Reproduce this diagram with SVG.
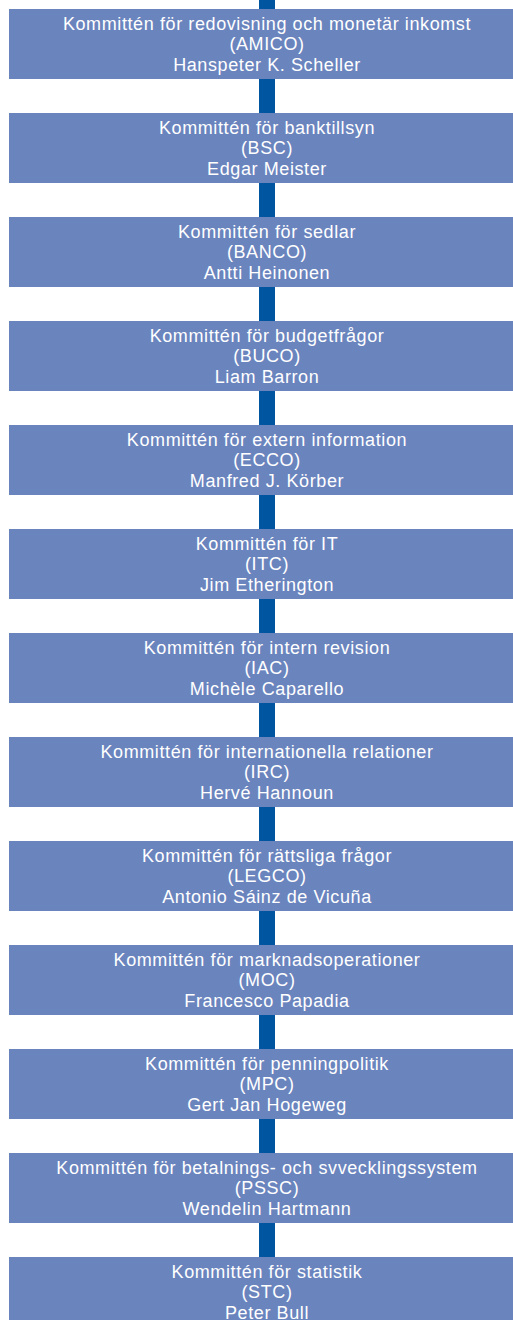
<svg xmlns="http://www.w3.org/2000/svg" width="513" height="1320" viewBox="0 0 513 1320">
<style>
.box{fill:#6a84be}
.bar{fill:#0055a0}
text{font-family:"Liberation Sans",Arial,sans-serif;font-size:18px;fill:#ffffff;text-anchor:middle;letter-spacing:0.6px}
</style>
<rect width="513" height="1320" fill="#ffffff"/>
<g id="connectors">
<rect class="bar" x="259" y="0" width="16" height="1320"/>
</g>
<g id="n1"><rect class="box" x="9" y="9" width="510" height="70"/><text x="267" y="29.5">Kommittén för redovisning och monetär inkomst</text><text x="267" y="50">(AMICO)</text><text x="267" y="70.5">Hanspeter K. Scheller</text></g>
<g id="n2"><rect class="box" x="9" y="113" width="510" height="70"/><text x="267" y="133.5">Kommittén för banktillsyn</text><text x="267" y="154">(BSC)</text><text x="267" y="174.5">Edgar Meister</text></g>
<g id="n3"><rect class="box" x="9" y="217" width="510" height="70"/><text x="267" y="237.5">Kommittén för sedlar</text><text x="267" y="258">(BANCO)</text><text x="267" y="278.5">Antti Heinonen</text></g>
<g id="n4"><rect class="box" x="9" y="321" width="510" height="70"/><text x="267" y="341.5">Kommittén för budgetfrågor</text><text x="267" y="362">(BUCO)</text><text x="267" y="382.5">Liam Barron</text></g>
<g id="n5"><rect class="box" x="9" y="425" width="510" height="70"/><text x="267" y="445.5">Kommittén för extern information</text><text x="267" y="466">(ECCO)</text><text x="267" y="486.5">Manfred J. Körber</text></g>
<g id="n6"><rect class="box" x="9" y="529" width="510" height="70"/><text x="267" y="549.5">Kommittén för IT</text><text x="267" y="570">(ITC)</text><text x="267" y="590.5">Jim Etherington</text></g>
<g id="n7"><rect class="box" x="9" y="633" width="510" height="70"/><text x="267" y="653.5">Kommittén för intern revision</text><text x="267" y="674">(IAC)</text><text x="267" y="694.5">Michèle Caparello</text></g>
<g id="n8"><rect class="box" x="9" y="737" width="510" height="70"/><text x="267" y="757.5">Kommittén för internationella relationer</text><text x="267" y="778">(IRC)</text><text x="267" y="798.5">Hervé Hannoun</text></g>
<g id="n9"><rect class="box" x="9" y="841" width="510" height="70"/><text x="267" y="861.5">Kommittén för rättsliga frågor</text><text x="267" y="882">(LEGCO)</text><text x="267" y="902.5">Antonio Sáinz de Vicuña</text></g>
<g id="n10"><rect class="box" x="9" y="945" width="510" height="70"/><text x="267" y="965.5">Kommittén för marknadsoperationer</text><text x="267" y="986">(MOC)</text><text x="267" y="1006.5">Francesco Papadia</text></g>
<g id="n11"><rect class="box" x="9" y="1049" width="510" height="70"/><text x="267" y="1069.5">Kommittén för penningpolitik</text><text x="267" y="1090">(MPC)</text><text x="267" y="1110.5">Gert Jan Hogeweg</text></g>
<g id="n12"><rect class="box" x="9" y="1153" width="510" height="70"/><text x="267" y="1173.5">Kommittén för betalnings- och svvecklingssystem</text><text x="267" y="1194">(PSSC)</text><text x="267" y="1214.5">Wendelin Hartmann</text></g>
<g id="n13"><rect class="box" x="9" y="1257" width="510" height="70"/><text x="267" y="1277.5">Kommittén för statistik</text><text x="267" y="1298">(STC)</text><text x="267" y="1318.5">Peter Bull</text></g>
</svg>
